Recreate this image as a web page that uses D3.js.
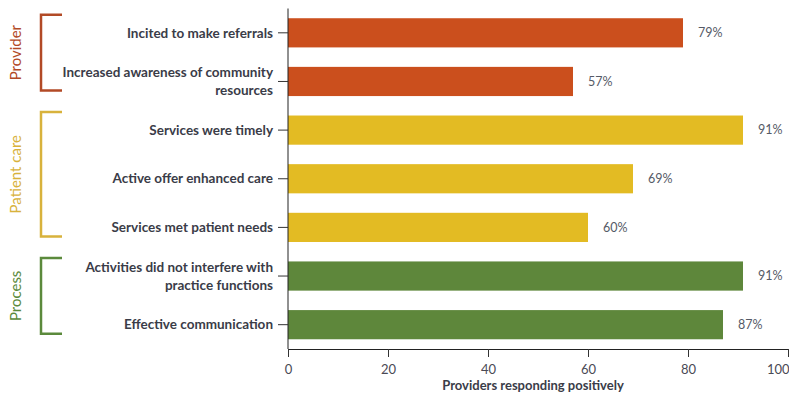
<!DOCTYPE html>
<html><head><meta charset="utf-8">
<script src="https://cdn.jsdelivr.net/npm/d3@7"></script>
<style>body{margin:0;background:#fff;} svg{display:block;} svg text{font-family:Lato, "Open Sans", sans-serif;}</style>
</head><body>
<svg id="c" width="789" height="397"></svg>
<script>
const categories = [
  ["Incited to make referrals"],
  ["Increased awareness of community", "resources"],
  ["Services were timely"],
  ["Active offer enhanced care"],
  ["Services met patient needs"],
  ["Activities did not interfere with", "practice functions"],
  ["Effective communication"]
];
const values = [79, 57, 91, 69, 60, 91, 87];
const groupOf = ["Provider","Provider","Patient care","Patient care","Patient care","Process","Process"];
const groups = ["Provider", "Patient care", "Process"];
const groupColors = {"Provider":"#cb4f1d", "Patient care":"#e3bb23", "Process":"#5e873b"};
const bracketColors = {"Provider":"#b24a26", "Patient care":"#d8b23c", "Process":"#5b8a3c"};
const xTicks = [0, 20, 40, 60, 80, 100];
const xTitle = "Providers responding positively";

const svg = d3.select("#c");
const x = d3.scaleLinear().domain([0, 100]).range([288, 788]);
const y = d3.scaleBand().domain(d3.range(categories.length)).range([8.5, 349]).paddingInner(0.4).paddingOuter(0.2);

// bars
svg.append("g").selectAll("rect").data(values).join("rect")
  .attr("x", x(0)).attr("y", (d,i)=>y(i))
  .attr("width", d=>x(d)-x(0)).attr("height", y.bandwidth())
  .attr("fill", (d,i)=>groupColors[groupOf[i]]);

// value labels
svg.append("g").selectAll("text").data(values).join("text")
  .attr("x", d=>x(d)+15).attr("y", (d,i)=>y(i)+y.bandwidth()/2)
  .attr("dy", "0.35em").attr("font-size", 12.5).attr("fill", "#555a66")
  .text(d=>d+"%");

// y axis
const yAxis = svg.append("g").attr("transform", `translate(${x(0)},0)`)
  .call(d3.axisLeft(y).tickSize(10).tickFormat(""));
yAxis.select(".domain").attr("stroke", "#222").attr("d", `M0,8.5V349`);
yAxis.selectAll(".tick line").attr("stroke", "#333");
yAxis.selectAll(".tick").each(function(d){
  const lines = categories[d];
  const t = d3.select(this).append("text").attr("x", -15).attr("text-anchor","end")
    .attr("font-size", 13.5).attr("font-weight", 700).attr("fill", "#3a3c48");
  const n = lines.length;
  lines.forEach((l,k)=>{
    t.append("tspan").attr("x", -15).attr("y", (k-(n-1)/2)*17.5).attr("dy","0.35em").text(l);
  });
});

// x axis
const xAxis = svg.append("g").attr("transform", "translate(0,349)")
  .call(d3.axisBottom(x).tickValues(xTicks).tickSize(8).tickSizeOuter(0));
xAxis.select(".domain").attr("stroke", "#222");
xAxis.selectAll(".tick line").attr("stroke", "#333");
xAxis.selectAll(".tick text").attr("font-size", 13).attr("fill", "#4a4a55").attr("dy","1.05em")
  .filter(d=>d===100).attr("text-anchor","end").attr("x", 1);
svg.append("text").attr("x", 533).attr("y", 390).attr("text-anchor","middle")
  .attr("font-size", 13).attr("font-weight", 700).attr("fill", "#3a3c48").text(xTitle);

// brackets
groups.forEach(g=>{
  const idx = d3.range(categories.length).filter(i=>groupOf[i]===g);
  const y0 = y(idx[0]) + y.bandwidth()/2 - 18;
  const y1 = y(idx[idx.length-1]) + y.bandwidth()/2 + 9;
  const col = bracketColors[g];
  svg.append("path").attr("d", `M62,${y0}H41V${y1}H62`).attr("fill","none")
    .attr("stroke", col).attr("stroke-width", 2.5);
  const cy = (y0+y1)/2;
  svg.append("text").attr("transform", `translate(16,${cy}) rotate(-90)`)
    .attr("text-anchor","middle").attr("dy","0.35em").attr("font-size", 15)
    .attr("fill", col).text(g);
});
</script>
</body></html>
